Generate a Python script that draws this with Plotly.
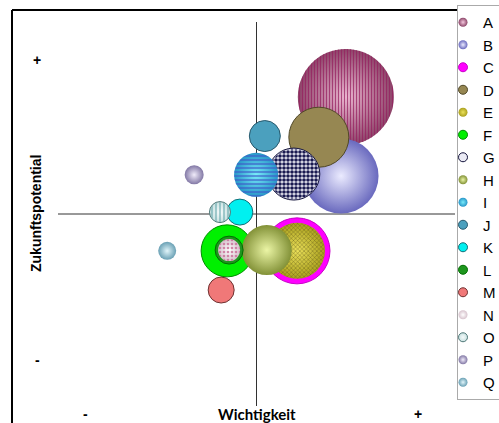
import numpy as np
import plotly.graph_objects as go

# ---------------- data ----------------
names = list("ABCDEFGHIJKLMNOPQ")
wichtigkeit = [7.25, 7.13, 6.02, 6.57, 6.02, 4.26, 5.94, 5.26, 4.99, 5.21, 4.58, 4.31, 4.11, 4.31, 4.08, 3.43, 2.75]
zukunftspotential = [8.05, 5.99, 4.04, 7.00, 4.04, 4.04, 6.04, 4.06, 6.02, 7.03, 5.05, 4.06, 3.02, 4.06, 5.05, 6.02, 4.04]
groesse = [96, 75, 66, 60, 56, 52, 52, 50, 44, 31, 26, 28, 26, 22, 21, 19, 18]
x_ticks = [0.7, 9.07]
x_tick_text = ["-", "+"]
y_ticks = [1.2, 9.0]
y_tick_text = ["-", "+"]

# ---------------- styles ----------------
# edge colour, centre colour (radial gradient or None), outline colour, outline width, pattern
styles = {
    "A": ("rgb(140,70,105)", "rgb(245,200,222)", None, 0, ("|", "rgba(150,30,95,0.75)", 3, 0.45)),
    "B": ("rgb(105,105,190)", "rgb(235,235,255)", None, 0, None),
    "C": ("rgb(255,0,255)", None, "rgb(200,0,200)", 1, None),
    "D": ("rgb(150,135,82)", None, "rgb(80,72,40)", 1, None),
    "E": ("rgb(170,160,30)", "rgb(235,225,90)", None, 0, ("x", "rgba(80,75,20,0.8)", 3, 0.25)),
    "F": ("rgb(0,240,0)", None, "rgb(0,140,0)", 1, None),
    "G": ("rgb(235,235,245)", None, "rgb(20,20,60)", 1, (".", "rgb(25,25,80)", 4, 0.65)),
    "H": ("rgb(130,145,55)", "rgb(235,245,165)", None, 0, None),
    "I": ("rgb(40,150,200)", "rgb(120,235,250)", None, 0, ("-", "rgba(60,90,200,0.75)", 4, 0.4)),
    "J": ("rgb(75,160,190)", None, "rgb(40,90,110)", 1, None),
    "K": ("rgb(0,240,240)", None, "rgb(20,110,120)", 1, None),
    "L": ("rgb(30,150,30)", None, "rgb(0,110,0)", 1, None),
    "M": ("rgb(240,120,120)", None, "rgb(110,50,50)", 1, None),
    "N": ("rgb(215,195,205)", "rgb(255,255,255)", None, 0, (".", "rgba(200,110,150,0.8)", 4, 0.35)),
    "O": ("rgb(200,225,225)", "rgb(245,250,250)", "rgb(80,120,120)", 1, ("|", "rgba(90,160,165,0.85)", 4, 0.3)),
    "P": ("rgb(130,120,165)", "rgb(240,235,250)", None, 0, None),
    "Q": ("rgb(105,160,180)", "rgb(225,245,250)", None, 0, None),
}

# ---------------- layout geometry ----------------
W, H = 499, 423
ML, MR, MT, MB = 58, 44, 22, 17
X_RANGE = [0, 10]
Y_RANGE = [0, 10]
PW, PH = W - ML - MR, H - MT - MB
PXX = PW / (X_RANGE[1] - X_RANGE[0])
PXY = PH / (Y_RANGE[1] - Y_RANGE[0])
X_MID = sum(X_RANGE) / 2
Y_MID = sum(Y_RANGE) / 2


def px_x(p):
    return (p - ML) / PW


def px_y(p):
    return (H - MB - p) / PH


FONT_ARIAL = "Liberation Sans, Arial, sans-serif"
FONT_TITLE = "Lato, Liberation Sans, sans-serif"

fig = go.Figure()

theta = np.linspace(0, 2 * np.pi, 97)

for i, n in enumerate(names):
    edge, centre, lc, lw, pat = styles[n]
    marker = dict(size=[groesse[i]], sizemode="diameter", sizeref=1, color=edge,
                  line=dict(color=lc or edge, width=lw), opacity=1)
    if centre:
        marker["gradient"] = dict(type="radial", color=centre)
    fig.add_trace(go.Scatter(x=[wichtigkeit[i]], y=[zukunftspotential[i]], mode="markers",
                             marker=marker, name=n, legendgroup=n, showlegend=False,
                             hovertemplate=f"{n}<br>Wichtigkeit: %{{x}}<br>Zukunftspotential: %{{y}}<extra></extra>"))
    if pat:
        shape, fg, size, sol = pat
        r = groesse[i] / 2 - lw / 2
        xs = wichtigkeit[i] + r / PXX * np.cos(theta)
        ys = zukunftspotential[i] + r / PXY * np.sin(theta)
        fig.add_trace(go.Scatter(x=xs, y=ys, mode="lines", fill="toself",
                                 line=dict(width=0, color="rgba(0,0,0,0)"),
                                 fillcolor="rgba(0,0,0,0)",
                                 fillpattern=dict(shape=shape, fgcolor=fg, size=size,
                                                  solidity=sol, fillmode="replace"),
                                 legendgroup=n, showlegend=False, hoverinfo="skip"))

# legend entries (small symbols)
for n in names:
    edge, centre, lc, lw, pat = styles[n]
    m = dict(size=9, color=edge, line=dict(color=lc or edge, width=min(lw, 1)))
    if centre:
        m["gradient"] = dict(type="radial", color=centre)
    fig.add_trace(go.Scatter(x=[None], y=[None], mode="markers", marker=m,
                             name=n, legendgroup=n, showlegend=True))

shapes = [
    # quadrant lines
    dict(type="line", xref="x", yref="y", x0=X_MID, x1=X_MID, y0=Y_RANGE[0], y1=Y_RANGE[1],
         line=dict(color="rgb(50,50,50)", width=1), layer="below"),
    dict(type="line", xref="x", yref="y", x0=X_RANGE[0], x1=X_RANGE[1], y0=Y_MID, y1=Y_MID,
         line=dict(color="rgb(50,50,50)", width=1), layer="below"),
    # outer frame (cropped)
    dict(type="line", xref="paper", yref="paper", x0=px_x(12), x1=px_x(12), y0=px_y(10), y1=px_y(430),
         line=dict(color="black", width=2)),
    dict(type="line", xref="paper", yref="paper", x0=px_x(12), x1=px_x(505), y0=px_y(10), y1=px_y(10),
         line=dict(color="black", width=2)),
]

annotations = []
for v, t in zip(x_ticks, x_tick_text):
    annotations.append(dict(x=v, y=px_y(414), xref="x", yref="paper", text=f"<b>{t}</b>",
                            xanchor="center", yanchor="middle",
                            showarrow=False, font=dict(size=14, family=FONT_ARIAL, color="black")))
for v, t in zip(y_ticks, y_tick_text):
    annotations.append(dict(x=px_x(37), y=v, xref="paper", yref="y", text=f"<b>{t}</b>",
                            xanchor="center", yanchor="middle",
                            showarrow=False, font=dict(size=14, family=FONT_ARIAL, color="black")))
annotations.append(dict(x=X_MID, y=px_y(414), xref="x", yref="paper", text="<b>Wichtigkeit</b>",
                        xanchor="center", yanchor="middle",
                        showarrow=False, font=dict(size=15, family=FONT_TITLE, color="black")))
annotations.append(dict(x=px_x(36), y=Y_MID, xref="paper", yref="y", text="<b>Zukunftspotential</b>",
                        textangle=-90, xanchor="center", yanchor="middle", showarrow=False,
                        font=dict(size=14, family=FONT_ARIAL, color="black")))

fig.update_layout(
    width=W, height=H,
    margin=dict(l=ML, r=MR, t=MT, b=MB, autoexpand=False),
    paper_bgcolor="white", plot_bgcolor="white",
    xaxis=dict(range=X_RANGE, showgrid=False, zeroline=False, showline=False,
               showticklabels=False, ticks=""),
    yaxis=dict(range=Y_RANGE, showgrid=False, zeroline=False, showline=False,
               showticklabels=False, ticks=""),
    showlegend=True,
    legend=dict(x=px_x(457), y=px_y(5), xanchor="left", yanchor="top",
                bgcolor="white", bordercolor="rgb(170,170,170)", borderwidth=1,
                font=dict(size=15, family=FONT_ARIAL, color="black"),
                itemwidth=30, indentation=-15, tracegroupgap=0, maxheight=H),
    shapes=shapes,
    annotations=annotations,
)

fig.write_html("out.html", config={"displayModeBar": False},
               post_script="document.body.style.margin='0';document.body.style.padding='0';")
